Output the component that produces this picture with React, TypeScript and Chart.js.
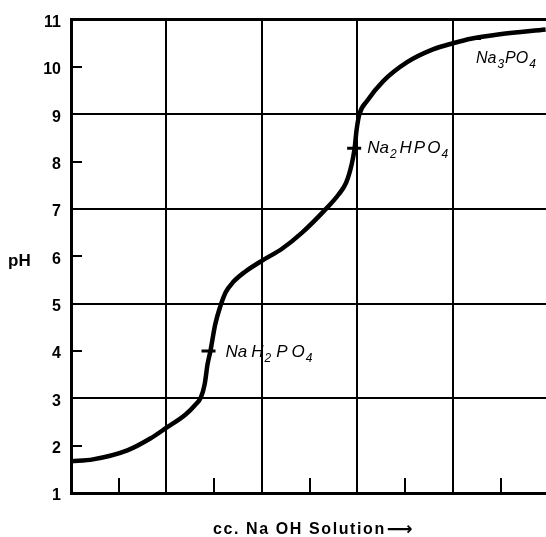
import React, { useEffect, useRef } from "react";
import { Chart, registerables } from "chart.js";

Chart.register(...registerables);

// cc of NaOH solution (x) and measured pH (y) along the titration curve
const volumeNaOH = [0, 0.23, 0.59, 0.83, 1.0, 1.2, 1.3, 1.36, 1.4, 1.43, 1.46, 1.51, 1.56, 1.62, 1.7, 1.82, 2.01, 2.21, 2.42, 2.66, 2.8, 2.88, 2.94, 2.97, 2.99, 3.02, 3.1, 3.27, 3.52, 3.79, 4.0, 4.2, 4.49, 4.97];
const pHValues = [1.67, 1.71, 1.9, 2.15, 2.38, 2.66, 2.86, 3.02, 3.3, 3.72, 4.0, 4.56, 4.92, 5.24, 5.46, 5.67, 5.92, 6.16, 6.5, 6.98, 7.3, 7.55, 7.95, 8.28, 8.66, 9.0, 9.28, 9.7, 10.1, 10.37, 10.5, 10.6, 10.69, 10.79];

// equivalence markers
const markerVolumes = [1.44, 2.965, 4.22];
const markerPH = [4.0, 8.28, 10.6];
const saltNames = ["NaH2PO4", "Na2HPO4", "Na3PO4"];

// axes
const yTickValues = [1, 2, 3, 4, 5, 6, 7, 8, 9, 10, 11];
const yGridValues = [1, 3, 5, 7, 9, 11];
const yMinorMarks = [2, 4, 6, 8, 10];
const xGridValues = [0, 1, 2, 3, 4];
const xMinorMarks = [0.5, 1.5, 2.5, 3.5, 4.5];
const xMax = 4.974;
const yAxisTitle = "pH";
const xAxisTitle = "cc. Na OH Solution";
const xAxisArrow = "\u27F6";

// label placement (px offsets from marker, gap between element groups, font size)
const labelStyles = [
  { dx: 17, dy: 6, gap: 4, size: 17 },
  { dx: 13, dy: 5, gap: 2, size: 17 },
  { dx: 2, dy: 24, gap: 0, size: 16 },
];

function drawSalt(ctx: CanvasRenderingContext2D, name: string, x: number, y: number, gap: number, size: number) {
  let cx = x;
  const parts = name.match(/[A-Za-z]+|\d+/g) || [];
  for (const p of parts) {
    if (/\d/.test(p)) {
      ctx.font = `italic ${Math.round(size * 0.72)}px 'Liberation Sans'`;
      ctx.fillText(p, cx, y + 5);
      cx += ctx.measureText(p).width + 1 + gap;
    } else {
      ctx.font = `italic ${size}px 'Liberation Sans'`;
      const segs = p.match(/[A-Z][a-z]?/g) || [p];
      segs.forEach((s, i) => {
        ctx.fillText(s, cx, y);
        cx += ctx.measureText(s).width + (i < segs.length - 1 ? gap : 1);
      });
    }
  }
}

const overlayPlugin = {
  id: "overlay",
  afterDraw(chart: any) {
    const ctx = chart.ctx as CanvasRenderingContext2D;
    const xs = chart.scales.x;
    const ys = chart.scales.y;
    const area = chart.chartArea;
    ctx.save();
    ctx.strokeStyle = "#000";
    ctx.fillStyle = "#000";
    ctx.lineWidth = 2;
    for (const v of xMinorMarks) {
      const px = Math.round(xs.getPixelForValue(v));
      ctx.beginPath();
      ctx.moveTo(px, area.bottom);
      ctx.lineTo(px, area.bottom - 15);
      ctx.stroke();
    }
    for (const v of yMinorMarks) {
      const py = Math.round(ys.getPixelForValue(v));
      ctx.beginPath();
      ctx.moveTo(area.left, py);
      ctx.lineTo(area.left + 11, py);
      ctx.stroke();
    }
    ctx.font = "bold 17px 'Liberation Sans'";
    ctx.textAlign = "left";
    ctx.textBaseline = "alphabetic";
    ctx.fillText(yAxisTitle, 8, ys.getPixelForValue(6) + 10);

    ctx.font = "bold 16px 'Liberation Sans'";
    (ctx as any).letterSpacing = "1.6px";
    ctx.fillText(xAxisTitle, 213, 534);
    const w = ctx.measureText(xAxisTitle).width;
    (ctx as any).letterSpacing = "0px";
    ctx.font = "bold 18px 'DejaVu Sans'";
    ctx.fillText(xAxisArrow, 213 + w + 1, 535);

    markerVolumes.forEach((v, i) => {
      const px = xs.getPixelForValue(v);
      const py = ys.getPixelForValue(markerPH[i]);
      const st = labelStyles[i];
      drawSalt(ctx, saltNames[i], px + st.dx, py + st.dy, st.gap, st.size);
    });
    ctx.restore();
  },
};

export default function App() {
  const ref = useRef<HTMLCanvasElement | null>(null);
  useEffect(() => {
    if (!ref.current) return;
    const chart = new Chart(ref.current, {
      type: "line",
      data: {
        datasets: [
          {
            data: volumeNaOH.map((x, i) => ({ x, y: pHValues[i] })),
            borderColor: "#000",
            borderWidth: 4.5,
            pointRadius: 0,
            cubicInterpolationMode: "monotone",
            fill: false,
          },
          {
            data: markerVolumes.map((x, i) => ({ x, y: markerPH[i] })),
            showLine: false,
            pointStyle: "line",
            pointRadius: 7,
            pointBorderWidth: 3,
            pointBorderColor: "#000",
            borderColor: "#000",
          },
        ],
      },
      options: {
        animation: false,
        responsive: true,
        maintainAspectRatio: false,
        layout: { autoPadding: false, padding: { top: 15, right: 0, left: 0, bottom: 0 } },
        plugins: { legend: { display: false }, tooltip: { enabled: false } },
        scales: {
          x: {
            type: "linear",
            min: 0,
            max: xMax,
            afterBuildTicks: (s: any) => {
              s.ticks = xGridValues.map((v) => ({ value: v }));
            },
            afterFit: (s: any) => {
              s.height = 44;
            },
            ticks: { display: false },
            grid: { color: "#000", lineWidth: 2, drawTicks: false },
            border: { color: "#000", width: 3 },
          },
          y: {
            type: "linear",
            min: 1,
            max: 11,
            afterBuildTicks: (s: any) => {
              s.ticks = yTickValues.map((v) => ({ value: v }));
            },
            afterFit: (s: any) => {
              s.width = 71;
            },
            ticks: {
              color: "#000",
              padding: 10,
              labelOffset: 3,
              font: { family: "'Liberation Sans'", size: 16, weight: "bold" },
            },
            grid: {
              drawTicks: false,
              color: (c: any) => (yGridValues.includes(c.tick?.value) ? "#000" : "rgba(0,0,0,0)"),
              lineWidth: (c: any) => (c.tick?.value === 11 ? 3 : 2),
            },
            border: { color: "#000", width: 3 },
          },
        },
      },
      plugins: [overlayPlugin],
    } as any);
    return () => chart.destroy();
  }, []);
  return (
    <div style={{ position: "fixed", left: 0, top: 0, width: 546, height: 537, background: "#fff" }}>
      <canvas ref={ref} />
    </div>
  );
}
